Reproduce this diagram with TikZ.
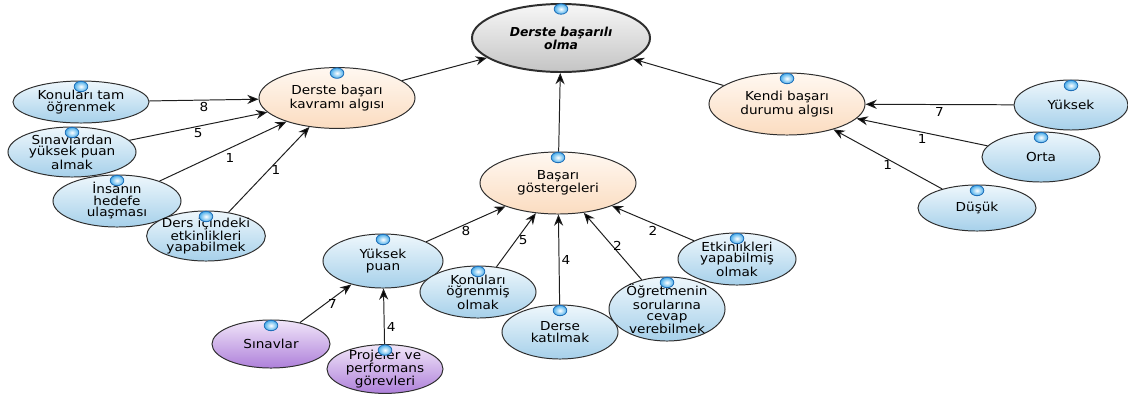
\documentclass[tikz,border=0pt]{standalone}
\usepackage{fontspec}
\setmainfont{DejaVu Sans}[FakeStretch=1.1]
\newfontfamily\goalfont{DejaVu Sans}
\usetikzlibrary{shapes.geometric,arrows.meta}
\definecolor{blueTop}{HTML}{EEF7FC}
\definecolor{blueBot}{HTML}{A6D0EA}
\definecolor{peachTop}{HTML}{FFF8F1}
\definecolor{peachBot}{HTML}{FBDCC0}
\definecolor{lilacTop}{HTML}{F1E6F9}
\definecolor{lilacBot}{HTML}{AE80DA}
\definecolor{greyTop}{HTML}{F7F7F7}
\definecolor{greyBot}{HTML}{C4C4C4}
\definecolor{rimLine}{HTML}{2E2E2E}
\definecolor{linkLine}{HTML}{1E1E1E}
\definecolor{beadBlue}{HTML}{4AAEEB}
\definecolor{beadRim}{HTML}{1F6FB8}

\begin{document}
\begin{tikzpicture}[x=0.025cm, y=-0.025cm,
	bubble/.style={draw=rimLine, ellipse, line width=0.7pt, inner sep=-1.5pt, align=center, font=\fontsize{8.8}{8.2}\selectfont},
	goal/.style={bubble, line width=1.4pt, top color=greyTop, bottom color=greyBot, font=\fontsize{8.8}{8.4}\selectfont\goalfont\bfseries\itshape},
	theme/.style={bubble, top color=peachTop, bottom color=peachBot},
	item/.style={bubble, top color=blueTop, bottom color=blueBot},
	subitem/.style={bubble, top color=lilacTop, bottom color=lilacBot},
	arr/.style={draw=linkLine, line width=0.7pt, -{Stealth[length=8pt,width=6.5pt]}},
	lbl/.style={font=\fontsize{8.8}{9}\selectfont, inner sep=1.5pt}]
				\useasboundingbox (0,0) rectangle (1128,396);
				\node[goal, minimum width=4.45cm, minimum height=1.7cm] (0) at (561,38) {Derste başarılı\\olma};
				\node[theme, minimum width=3.9cm, minimum height=1.52cm] (1) at (337,98) {Derste başarı\\kavramı algısı};
				\node[theme, minimum width=3.9cm, minimum height=1.55cm] (2) at (787,104) {Kendi başarı\\durumu algısı};
				\node[theme, minimum width=3.9cm, minimum height=1.55cm] (3) at (558,183) {Başarı\\göstergeleri};
				\node[item, minimum width=3.4cm, minimum height=1.05cm] (4) at (81,102) {Konuları tam\\öğrenmek};
				\node[item, minimum width=3.2cm, minimum height=1.25cm] (5) at (72,152) {Sınavlardan\\yüksek puan\\almak};
				\node[item, minimum width=3.2cm, minimum height=1.3cm] (6) at (117,201) {İnsanın\\hedefe\\ulaşması};
				\node[item, minimum width=2.8cm, minimum height=1.25cm] (7) at (206,236) {Ders içindeki\\etkinlikleri\\yapabilmek};
				\node[item, minimum width=3cm, minimum height=1.35cm] (8) at (383,261) {Yüksek\\puan};
				\node[subitem, minimum width=2.95cm, minimum height=1.2cm] (9) at (271,344) {Sınavlar};
				\node[subitem, minimum width=2.9cm, minimum height=1.2cm] (10) at (385,369) {Projeler ve\\performans\\görevleri};
				\node[item, minimum width=2.9cm, minimum height=1.3cm] (11) at (478,292) {Konuları\\öğrenmiş\\olmak};
				\node[item, minimum width=2.9cm, minimum height=1.35cm] (12) at (560,332) {Derse\\katılmak};
				\node[item, minimum width=2.9cm, minimum height=1.6cm, font=\fontsize{8.8}{7.9}\selectfont] (13) at (667,309) {Öğretmenin\\sorularına\\cevap\\verebilmek};
				\node[item, minimum width=2.95cm, minimum height=1.3cm] (14) at (737,259) {Etkinlikleri\\yapabilmiş\\olmak};
				\node[item, minimum width=2.85cm, minimum height=1.25cm] (15) at (1071,105) {Yüksek};
				\node[item, minimum width=2.95cm, minimum height=1.25cm] (16) at (1041,157) {Orta};
				\node[item, minimum width=2.95cm, minimum height=1.15cm] (17) at (977,208) {Düşük};
				
				\draw[arr] (1) edge (0);
				\draw[arr] (3) edge (0);
				\draw[arr] (2) edge (0);
				\draw[arr] (4) edge node[lbl, below] {8} (1);
				\draw[arr] (5) edge node[lbl, below] {5} (1);
				\draw[arr] (6) edge node[lbl, below right] {1} (1);
				\draw[arr] (7) edge node[lbl, right] {1} (1);
				\draw[arr] (15) edge node[lbl, below] {7} (2);
				\draw[arr] (16) edge node[lbl, below] {1} (2);
				\draw[arr] (17) edge node[lbl, below, inner sep=0.5pt] {1} (2);
				\draw[arr] (8) edge node[lbl, below] {8} (3);
				\draw[arr] (11) edge node[lbl, right] {5} (3);
				\draw[arr] (12) edge node[lbl, right] {4} (3);
				\draw[arr] (13) edge node[lbl, right, inner sep=0pt] {2} (3);
				\draw[arr] (14) edge node[lbl, below] {2} (3);
				\draw[arr] (9) edge node[lbl, right] {7} (8);
				\draw[arr] (10) edge node[lbl, right, pos=0.3] {4} (8);
				
				\foreach \n in {0,...,17}
					\shade[inner color=white, outer color=beadBlue, draw=beadRim, line width=0.6pt] ([yshift=-0.15cm]\n.north) ellipse (0.17cm and 0.13cm);
\end{tikzpicture}
\end{document}
